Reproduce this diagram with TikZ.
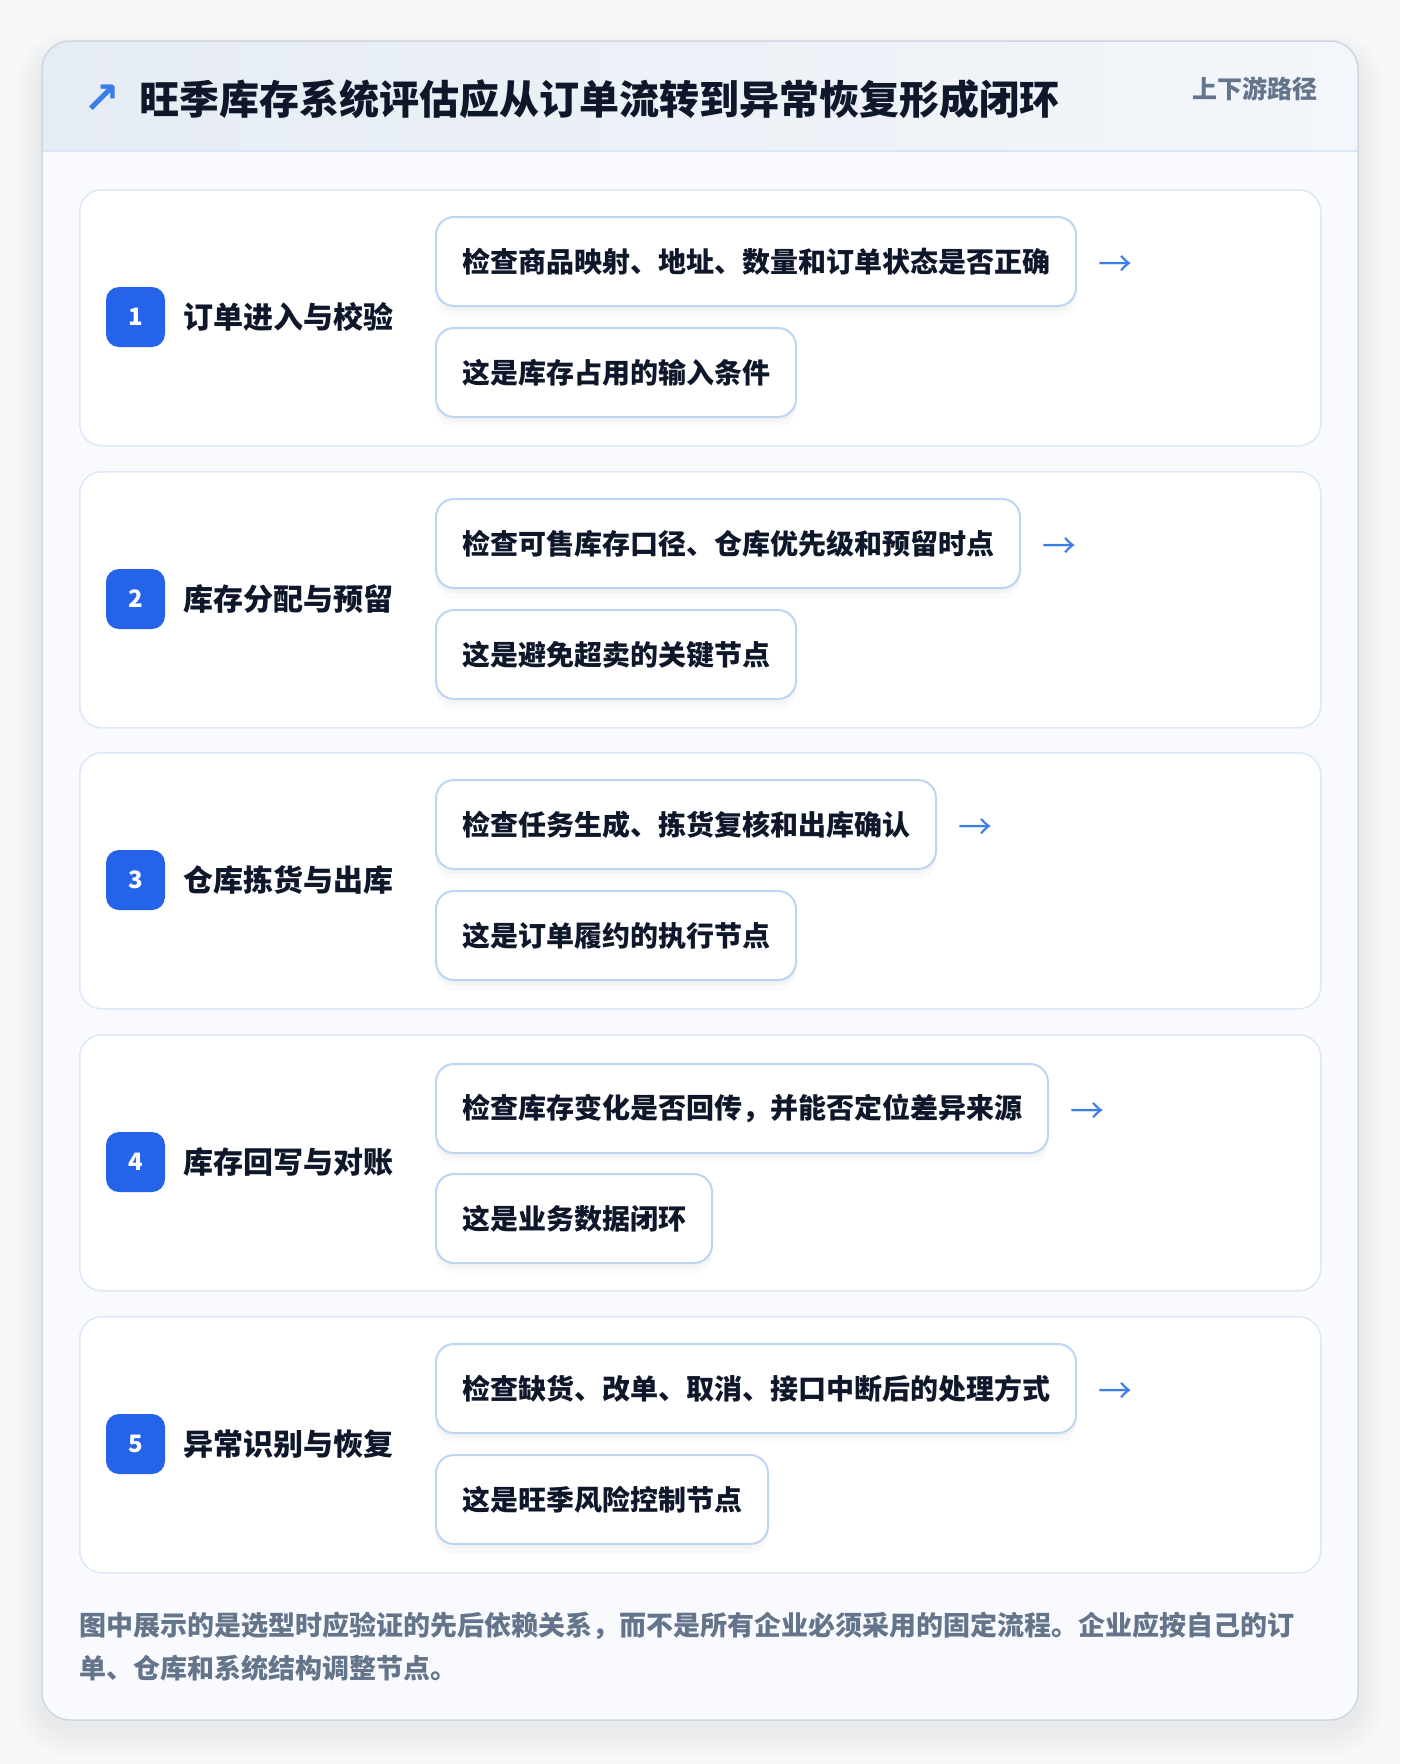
\documentclass[tikz,border=0pt]{standalone}
\usepackage{fontspec}
\setmainfont{Noto Sans CJK SC}
\newfontfamily\symfont{DejaVu Sans}
\usetikzlibrary{positioning}

\definecolor{pagebg}{HTML}{F7F8FA}
\definecolor{cardbg}{HTML}{F8FAFD}
\definecolor{cardline}{HTML}{CDD6E2}
\definecolor{headleft}{HTML}{E6ECF4}
\definecolor{headright}{HTML}{F3F6FA}
\definecolor{headline}{HTML}{DAE6F5}
\definecolor{secline}{HTML}{DCE8F7}
\definecolor{boxline}{HTML}{BDD5F3}
\definecolor{badgeblue}{HTML}{2563EB}
\definecolor{arrowblue}{HTML}{3B7DE9}
\definecolor{inkdark}{HTML}{0F172A}
\definecolor{inkmuted}{HTML}{64748B}

\tikzset{
  sectionbox/.style={draw=secline, line width=1.5pt, fill=white, rounded corners=22pt,
    anchor=north west, minimum width=1241pt, minimum height=256pt, inner sep=0pt},
  badge/.style={fill=badgeblue, text=white, rounded corners=13pt, minimum width=59pt,
    minimum height=60pt, inner sep=0pt, font=\fontsize{24}{24}\selectfont\bfseries},
  steplabel/.style={anchor=west, inner sep=0pt, text=inkdark,
    font=\fontsize{30}{30}\selectfont\bfseries},
  checkbox/.style={draw=boxline, line width=2pt, fill=white, rounded corners=18pt,
    anchor=north west, minimum height=89pt, inner xsep=26pt, inner ysep=0pt, text=inkdark,
    font=\fontsize{28}{28}\selectfont\bfseries,
    preaction={fill=black, fill opacity=0.025, draw=none, transform canvas={yshift=-5pt}},
    preaction={fill=black, fill opacity=0.018, draw=none, transform canvas={yshift=-10pt}}},
  nextarrow/.style={text=arrowblue, inner sep=0pt, font=\fontsize{34}{34}\selectfont},
}

\begin{document}
\begin{tikzpicture}[x=1pt, y=-1pt]
\fill[pagebg] (0,0) rectangle (1400,1764);
\useasboundingbox (0,0) rectangle (1400,1764);

% card shadow, card and header
\foreach \r in {2,4,...,28}
  \fill[black, opacity=0.0045, rounded corners=28pt+\r pt]
    (42-\r,41-\r+16) rectangle (1358+\r,1720+\r+10);
\fill[cardbg, rounded corners=28pt] (42,41) rectangle (1358,1720);
\begin{scope}
\clip[rounded corners=28pt] (42,41) rectangle (1358,1720);
\shade[left color=headleft, right color=headright] (42,41) rectangle (1358,151);
\end{scope}
\draw[headline, line width=1.5pt] (42,151) -- (1358,151);
\draw[cardline, line width=1.5pt, rounded corners=28pt] (42,41) rectangle (1358,1720);

\node[text=arrowblue, inner sep=0pt, font=\symfont\fontsize{44}{44}\selectfont\bfseries] (icon) at (102,99) {↗};
\node[anchor=west, inner sep=0pt, text=inkdark, font=\fontsize{40}{40}\selectfont\bfseries] (title) at (139,99)
  {旺季库存系统评估应从订单流转到异常恢复形成闭环};
\node[anchor=east, inner sep=0pt, text=inkmuted, font=\fontsize{25}{25}\selectfont\bfseries] (tag) at (1318,89)
  {上下游路径};

% step 1
\node[sectionbox] (s1) at (79,189) {};
\node[badge] (b1) at (135.5,317) {1};
\node[steplabel] (l1) at (183,317) {订单进入与校验};
\node[checkbox] (c1) at (435,216) {检查商品映射、地址、数量和订单状态是否正确};
\node[checkbox] (n1) at (435,327) {这是库存占用的输入条件};
\node[nextarrow, right=21pt of c1, yshift=-5pt] (a1) {→};

% step 2
\node[sectionbox] (s2) at (79,471) {};
\node[badge] (b2) at (135.5,599) {2};
\node[steplabel] (l2) at (183,599) {库存分配与预留};
\node[checkbox] (c2) at (435,498) {检查可售库存口径、仓库优先级和预留时点};
\node[checkbox] (n2) at (435,609) {这是避免超卖的关键节点};
\node[nextarrow, right=21pt of c2, yshift=-5pt] (a2) {→};

% step 3
\node[sectionbox] (s3) at (79,752) {};
\node[badge] (b3) at (135.5,880) {3};
\node[steplabel] (l3) at (183,880) {仓库拣货与出库};
\node[checkbox] (c3) at (435,779) {检查任务生成、拣货复核和出库确认};
\node[checkbox] (n3) at (435,890) {这是订单履约的执行节点};
\node[nextarrow, right=21pt of c3, yshift=-5pt] (a3) {→};

% step 4
\node[sectionbox] (s4) at (79,1034) {};
\node[badge] (b4) at (135.5,1162) {4};
\node[steplabel] (l4) at (183,1162) {库存回写与对账};
\node[checkbox] (c4) at (435,1063) {检查库存变化是否回传，并能否定位差异来源};
\node[checkbox] (n4) at (435,1173) {这是业务数据闭环};
\node[nextarrow, right=21pt of c4, yshift=-5pt] (a4) {→};

% step 5
\node[sectionbox] (s5) at (79,1316) {};
\node[badge] (b5) at (135.5,1444) {5};
\node[steplabel] (l5) at (183,1444) {异常识别与恢复};
\node[checkbox] (c5) at (435,1343) {检查缺货、改单、取消、接口中断后的处理方式};
\node[checkbox] (n5) at (435,1454) {这是旺季风险控制节点};
\node[nextarrow, right=21pt of c5, yshift=-5pt] (a5) {→};

% note
\node[anchor=north west, align=left, inner sep=0pt, text=inkmuted,
  font=\fontsize{27}{43}\selectfont\bfseries] (note) at (79,1612)
  {图中展示的是选型时应验证的先后依赖关系，而不是所有企业必须采用的固定流程。企业应按自己的订\\
   单、仓库和系统结构调整节点。};
\end{tikzpicture}
\end{document}
